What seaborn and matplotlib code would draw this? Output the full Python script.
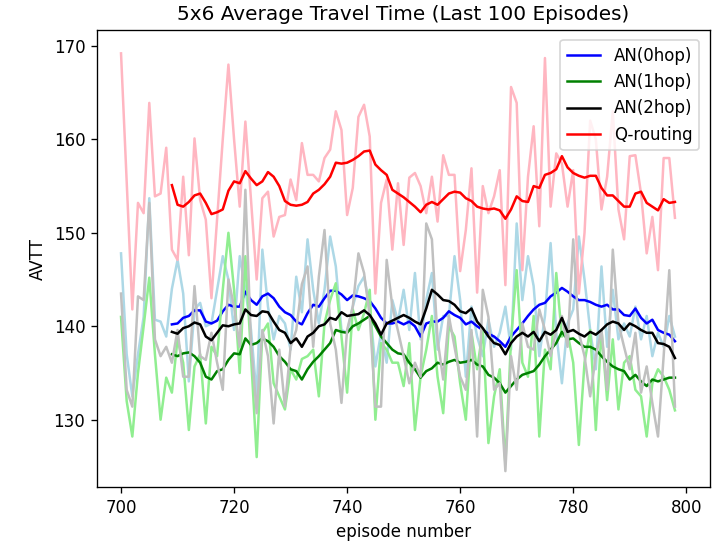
import matplotlib
matplotlib.use("Agg")
import matplotlib.pyplot as plt
import seaborn as sns
import pandas as pd

episodes = list(range(700, 799))
avg_episodes = list(range(709, 799))

an0_raw = [147.8, 137.0, 132.5, 137.0, 141.0, 153.7, 140.7, 140.5, 138.9, 144.0,
           147.1, 143.5, 134.1, 141.8, 142.5, 140.0, 140.3, 143.9, 147.5, 145.0,
           139.6, 147.5, 143.9, 139.6, 132.5, 148.2, 142.1, 138.6, 141.1, 140.3,
           137.5, 145.3, 141.5, 149.3, 143.9, 140.3, 143.9, 149.6, 146.4, 139.6,
           139.3, 142.1, 144.3, 145.3, 142.1, 135.7, 139.3, 136.1, 142.8, 140.5,
           143.9, 139.6, 145.7, 138.6, 142.8, 145.7, 137.5, 141.1, 141.1, 147.5,
           142.8, 134.6, 142.1, 138.9, 136.8, 140.7, 137.8, 139.3, 142.1, 137.5,
           151.0, 142.8, 147.5, 144.3, 136.8, 141.1, 148.9, 139.3, 133.9, 140.3,
           141.8, 149.6, 145.0, 139.6, 135.4, 146.4, 137.8, 143.9, 138.6, 140.3,
           138.9, 142.1, 138.6, 141.1, 136.8, 139.3, 137.8, 141.1, 138.9]
an1_raw = [141.0, 132.0, 128.2, 135.0, 140.0, 145.2, 137.0, 130.0, 134.5, 132.9,
           138.6, 136.1, 128.9, 135.7, 137.0, 129.6, 137.8, 136.8, 143.9, 150.0,
           143.9, 135.0, 147.5, 136.8, 126.0, 139.3, 140.3, 133.9, 132.5, 131.1,
           135.4, 134.3, 136.5, 136.8, 137.5, 132.5, 140.3, 142.8, 144.6, 138.9,
           132.9, 141.8, 139.6, 141.4, 143.9, 130.0, 138.2, 137.5, 136.1, 136.1,
           133.6, 138.2, 128.9, 134.6, 137.5, 141.1, 134.6, 130.7, 140.0, 138.9,
           133.9, 130.0, 139.3, 135.4, 139.6, 127.5, 132.5, 135.4, 125.3, 138.6,
           146.0, 136.1, 134.6, 141.1, 128.2, 137.5, 135.4, 145.7, 138.9, 139.3,
           136.1, 127.3, 136.1, 139.6, 128.9, 139.6, 132.1, 138.6, 131.1, 136.1,
           136.8, 133.2, 132.5, 128.2, 133.9, 135.4, 134.6, 133.2, 131.0]
an2_raw = [143.5, 133.2, 131.4, 143.2, 142.8, 153.2, 138.6, 136.8, 137.8, 136.1,
           139.6, 134.6, 134.6, 144.3, 136.8, 136.4, 139.3, 136.1, 133.2, 145.0,
           142.1, 137.8, 154.6, 138.2, 130.7, 139.6, 136.8, 129.6, 137.5, 131.4,
           137.8, 139.6, 144.5, 146.4, 137.8, 145.3, 150.3, 140.3, 137.5, 131.8,
           139.6, 142.1, 147.8, 145.7, 141.1, 131.4, 131.4, 147.1, 142.1, 139.5,
           136.8, 133.9, 136.1, 134.6, 151.0, 149.3, 138.6, 134.3, 141.1, 137.8,
           134.6, 133.2, 139.6, 128.2, 143.9, 141.0, 133.2, 133.9, 124.5, 136.8,
           133.2, 140.3, 137.8, 137.5, 141.8, 139.6, 136.8, 139.6, 141.1, 137.8,
           149.3, 139.3, 136.8, 132.5, 136.8, 139.6, 133.2, 148.2, 140.3, 137.8,
           135.4, 139.3, 132.9, 135.7, 131.8, 128.2, 136.8, 146.0, 131.4]
qr_raw = [169.2, 155.5, 141.8, 153.2, 152.1, 163.9, 153.9, 154.2, 159.1, 148.2,
          147.1, 156.0, 147.6, 160.1, 153.5, 151.4, 143.0, 151.5, 160.0, 168.0,
          160.0, 152.8, 161.9, 153.5, 145.0, 153.7, 154.4, 149.6, 151.7, 151.9,
          155.7, 153.5, 159.6, 156.2, 156.2, 155.5, 158.0, 158.9, 163.0, 161.0,
          151.9, 154.8, 162.4, 163.7, 160.3, 143.5, 153.2, 155.7, 148.2, 155.3,
          148.7, 155.9, 156.4, 155.0, 152.1, 156.0, 151.2, 158.3, 156.2, 156.2,
          145.9, 150.3, 156.9, 143.6, 155.0, 152.1, 153.9, 156.7, 144.4, 165.6,
          163.9, 146.0, 156.0, 161.4, 150.7, 168.7, 152.8, 158.5, 157.4, 152.8,
          156.7, 143.5, 150.0, 162.0, 160.0, 152.5, 156.0, 163.0, 152.5, 149.3,
          158.2, 158.3, 154.2, 147.8, 151.7, 146.0, 158.0, 158.0, 151.6]

an0_avg = [140.2, 140.3, 140.9, 141.1, 141.7, 141.7, 140.5, 140.3, 140.6, 141.6,
           142.3, 142.1, 142.1, 143.7, 142.8, 142.3, 143.2, 143.5, 143.0, 142.1,
           141.5, 141.2, 140.5, 140.2, 141.4, 142.3, 142.1, 143.0, 143.8, 143.8,
           143.4, 142.8, 143.3, 143.2, 143.0, 142.7, 141.9, 140.9, 140.3, 140.3,
           140.5, 140.2, 140.5, 140.0, 138.9, 140.3, 140.5, 140.5, 140.9, 141.6,
           141.2, 140.9, 140.2, 140.5, 140.0, 139.6, 139.2, 138.9, 138.4, 137.8,
           138.9, 139.6, 140.3, 141.1, 141.8, 142.3, 142.5, 143.2, 143.6, 144.1,
           143.7, 143.2, 142.8, 142.8, 142.6, 142.3, 142.1, 142.3, 141.8, 141.8,
           141.2, 141.1, 141.9, 140.9, 140.3, 140.7, 139.6, 139.3, 139.1, 138.4]
an1_avg = [137.0, 136.8, 137.1, 137.2, 136.8, 136.1, 134.6, 134.3, 135.2, 135.4,
           136.4, 137.1, 137.0, 138.7, 138.0, 138.2, 138.7, 138.4, 137.8, 136.8,
           136.2, 135.4, 135.2, 134.3, 135.4, 136.2, 136.8, 137.5, 138.2, 139.6,
           139.4, 139.3, 140.0, 140.3, 140.7, 141.1, 140.0, 138.9, 138.2, 137.5,
           137.1, 137.0, 136.1, 135.4, 134.5, 135.2, 135.5, 136.1, 135.9, 136.2,
           136.4, 136.1, 136.2, 136.4, 135.9, 135.7, 134.8, 134.5, 133.9, 132.9,
           133.6, 134.3, 134.8, 135.0, 135.2, 135.9, 136.8, 137.5, 138.2, 139.4,
           138.6, 138.7, 138.2, 137.8, 137.8, 137.5, 136.8, 136.2, 135.7, 135.4,
           135.2, 134.3, 134.8, 134.1, 133.6, 134.3, 134.1, 134.3, 134.5, 134.5]
an2_avg = [139.4, 139.2, 139.8, 140.0, 140.4, 140.2, 138.9, 138.5, 139.3, 140.1,
           140.0, 140.2, 140.3, 141.8, 141.2, 141.1, 141.6, 141.5, 140.5, 139.6,
           139.3, 138.2, 138.7, 137.8, 138.9, 139.3, 140.0, 140.2, 140.9, 140.7,
           141.5, 141.1, 141.2, 141.3, 141.7, 141.2, 140.3, 139.1, 140.3, 140.6,
           140.9, 141.2, 140.9, 140.5, 140.2, 141.9, 143.9, 143.4, 142.8, 142.7,
           142.3, 141.6, 141.4, 141.9, 140.5, 139.8, 138.9, 138.2, 138.0, 137.0,
           138.2, 138.9, 139.3, 138.9, 139.4, 138.4, 139.4, 139.1, 139.6, 140.9,
           139.4, 139.6, 139.2, 138.9, 139.4, 139.1, 139.6, 140.2, 140.5, 140.3,
           139.6, 140.3, 140.0, 139.6, 139.3, 139.3, 138.2, 138.1, 137.8, 136.6]
qr_avg = [155.1, 153.0, 152.8, 153.3, 154.0, 154.2, 153.2, 152.0, 152.2, 152.5,
          154.5, 155.5, 155.3, 156.6, 155.8, 155.1, 155.5, 156.5, 156.0, 155.0,
          153.4, 153.0, 152.9, 153.0, 153.3, 154.2, 154.6, 155.2, 156.0, 157.5,
          157.4, 157.5, 157.8, 158.2, 158.7, 158.8, 157.3, 156.7, 156.2, 154.6,
          154.2, 153.8, 153.3, 152.8, 152.2, 153.0, 153.3, 153.0, 153.6, 154.2,
          154.4, 154.3, 153.7, 153.4, 152.8, 152.6, 152.5, 152.6, 152.4, 151.5,
          152.5, 153.9, 153.4, 153.3, 155.0, 154.8, 156.2, 156.4, 156.8, 158.2,
          157.0, 156.4, 156.1, 155.9, 156.1, 156.1, 154.8, 154.0, 154.0, 153.4,
          152.8, 152.8, 154.2, 154.4, 153.2, 152.8, 152.4, 153.6, 153.2, 153.3]

labels = ["AN(0hop)", "AN(1hop)", "AN(2hop)", "Q-routing"]
raw_series = [an0_raw, an1_raw, an2_raw, qr_raw]
avg_series = [an0_avg, an1_avg, an2_avg, qr_avg]
raw_colors = ["lightblue", "lightgreen", "silver", "lightpink"]
avg_colors = ["blue", "green", "black", "red"]

DPI = 120
W, H = 712, 542
fig = plt.figure(figsize=(W / DPI, H / DPI), dpi=DPI)
ax = fig.add_axes([97 / W, 1 - 487 / H, (710 - 97) / W, (487 - 30) / H])

handles = []
for lab, raw, avg, rc, ac in zip(labels, raw_series, avg_series, raw_colors, avg_colors):
    sns.lineplot(x=episodes, y=raw, color=rc, ax=ax, legend=False)
    sns.lineplot(x=avg_episodes, y=avg, color=ac, ax=ax, legend=False)
    handles.append(ax.lines[-1])

ax.set_xlim(695.75, 804.2)
ax.set_ylim(122.8, 171.7)
ax.legend(handles, labels, loc="upper right",
          bbox_to_anchor=(699 / W, 1 - 40 / H), bbox_transform=fig.transFigure,
          borderaxespad=0.0)
ax.set_title("5x6 Average Travel Time (Last 100 Episodes)")
ax.set_xlabel("episode number")
ax.set_ylabel("AVTT")
ax.set_xticks([700, 720, 740, 760, 780, 800])
ax.set_yticks([130, 140, 150, 160, 170])

fig.savefig("out.png", dpi=DPI)
